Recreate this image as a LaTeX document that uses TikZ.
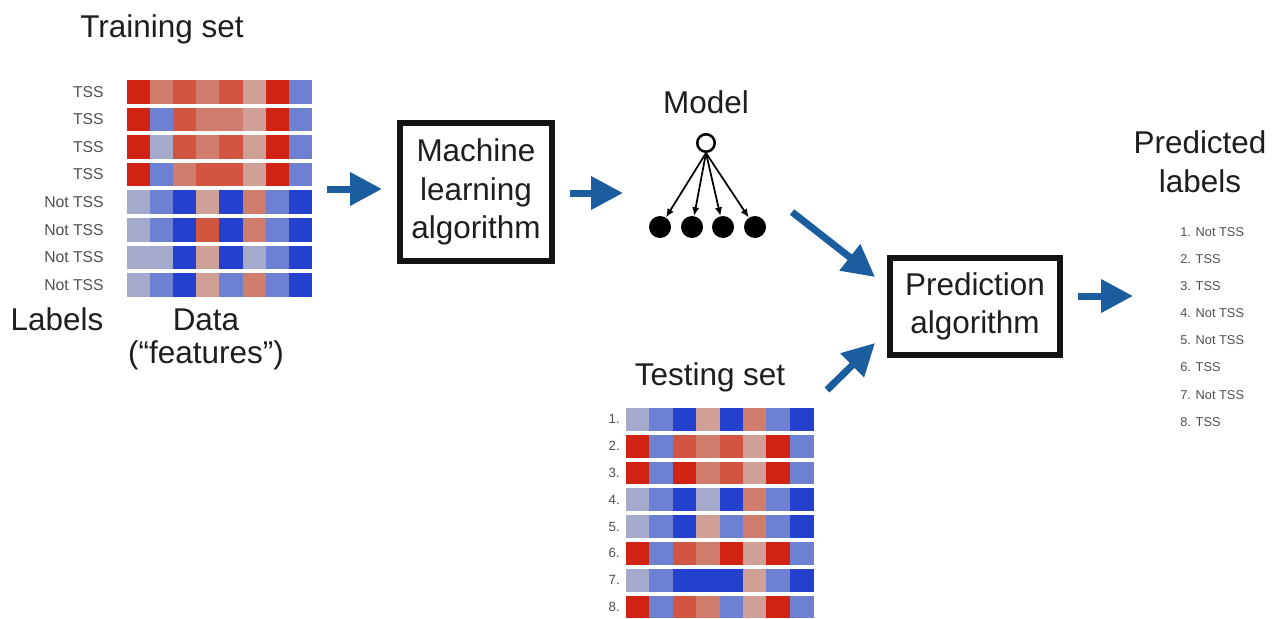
\documentclass[tikz,border=0pt]{standalone}
\usepackage{fontspec}
\setmainfont{Liberation Sans}
\usetikzlibrary{arrows.meta}
\definecolor{hR3}{RGB}{208,35,20}
\definecolor{hR2}{RGB}{210,85,65}
\definecolor{hR1}{RGB}{208,125,110}
\definecolor{hN}{RGB}{208,160,150}
\definecolor{hB1}{RGB}{165,170,205}
\definecolor{hB2}{RGB}{110,128,210}
\definecolor{hB3}{RGB}{35,65,205}
\definecolor{arrowblue}{RGB}{27,94,160}
\definecolor{txt}{RGB}{30,30,30}
\definecolor{labgrey}{RGB}{80,80,80}
\begin{document}
\begin{tikzpicture}[x=0.75pt,y=-0.75pt,
  head/.style={font=\fontsize{23.6}{28.9}\selectfont, text=txt, inner sep=0pt, align=center},
  lab/.style={font=\fontsize{11.8}{13}\selectfont, text=labgrey, inner sep=0pt},
  numlab/.style={font=\fontsize{10}{12}\selectfont, text=labgrey, inner sep=0pt},
  plab/.style={font=\fontsize{9.6}{12}\selectfont, text=labgrey, inner sep=0pt},
  algbox/.style={draw=black!92, line width=4.5pt, align=center, inner sep=0pt,
    font=\fontsize{23.6}{28.9}\selectfont, text=txt},
  bigarrow/.style={draw=arrowblue, line width=5.25pt, -{Triangle[length=24pt,width=24pt]}},
  modelarrow/.style={draw=black, line width=1.3pt, -{Latex[length=6.5pt,width=5.5pt]}},
  topnode/.style={circle, draw=black, line width=1.9pt, fill=white, minimum size=13.1pt, inner sep=0pt},
  leaf/.style={circle, fill=black, minimum size=16.5pt, inner sep=0pt},
]
\useasboundingbox (0,0) rectangle (1281,618);
\fill[white] (0,0) rectangle (1281,618);

% ---------- Training set ----------
\node[head, anchor=base] (trainT) at (162,37) {Training set};
\foreach \rowlist [count=\i from 0] in {
  {R3,R1,R2,R1,R2,N,R3,B2},
  {R3,B2,R2,R1,R1,N,R3,B2},
  {R3,B1,R2,R1,R2,N,R3,B2},
  {R3,B2,R1,R2,R2,N,R3,B2},
  {B1,B2,B3,N,B3,R1,B2,B3},
  {B1,B2,B3,R2,B3,R1,B2,B3},
  {B1,B1,B3,N,B3,B1,B2,B3},
  {B1,B2,B3,N,B2,R1,B2,B3}} {
  \foreach \c [count=\j from 0] in \rowlist {
    \fill[h\c] ({127+\j*23.1},{80+\i*27.6}) rectangle ++(23.4,23.5);
  }
}
\foreach \lab [count=\i from 0] in {TSS,TSS,TSS,TSS,Not TSS,Not TSS,Not TSS,Not TSS}
  \node[lab, anchor=east] (tl\i) at (104,{80+\i*27.6+11.75}) {\lab};
\node[head, anchor=base] (labelsT) at (57,330) {Labels};
\node[head, anchor=base, font=\fontsize{23.6}{24.75}\selectfont] (dataT) at (206,363) {Data\\(“features”)};
\coordinate (trainEnd) at (327,189);

% ---------- Machine learning ----------
\node[algbox, minimum width=114pt, minimum height=103.5pt] (ml) at (476,192) {Machine\\learning\\algorithm};
\draw[bigarrow, shorten >=11.25pt] (trainEnd) -- (trainEnd -| ml.west);
\coordinate (mlOut) at (623,193);
\draw[bigarrow, shorten <=11.25pt] (mlOut -| ml.east) -- (mlOut);

% ---------- Model ----------
\node[head, anchor=base] (modelT) at (706,113) {Model};
\node[topnode] (top) at (706,143) {};
\node[leaf] (b1) at (660,227) {};
\node[leaf] (b2) at (692,227) {};
\node[leaf] (b3) at (723,227) {};
\node[leaf] (b4) at (755,227) {};
\foreach \b in {b1,b2,b3,b4} \draw[modelarrow] (top.south) -- (\b);

% ---------- Prediction ----------
\node[algbox, minimum width=127.5pt, minimum height=72.75pt] (pred) at (975,306.5) {Prediction\\algorithm};
\coordinate (a3s) at (792,212);
\coordinate (a3e) at (875,277);
\draw[bigarrow] (a3s) -- (a3e);
\coordinate (a4s) at (827,390);
\coordinate (a4e) at (875,343);
\draw[bigarrow] (a4s) -- (a4e);
\coordinate (predOut) at (1133,296);
\draw[bigarrow, shorten <=11.25pt] (predOut -| pred.east) -- (predOut);

% ---------- Testing set ----------
\node[head, anchor=base] (testT) at (710,385) {Testing set};
\foreach \rowlist [count=\i from 0] in {
  {B1,B2,B3,N,B3,R1,B2,B3},
  {R3,B2,R2,R1,R2,N,R3,B2},
  {R3,B2,R3,R1,R2,N,R3,B2},
  {B1,B2,B3,B1,B3,R1,B2,B3},
  {B1,B2,B3,N,B2,R1,B2,B3},
  {R3,B2,R2,R1,R3,N,R3,B2},
  {B1,B2,B3,B3,B3,N,B2,B3},
  {R3,B2,R2,R1,B2,N,R3,B2}} {
  \foreach \c [count=\j from 0] in \rowlist {
    \fill[h\c] ({626+\j*23.4},{408+\i*26.8}) rectangle ++(23.7,22.7);
  }
}
\foreach \i in {1,...,8}
  \node[numlab, anchor=east] (sl\i) at (620,{408+(\i-1)*26.8+11.35}) {\i.};

% ---------- Predicted labels ----------
\node[head, anchor=base, font=\fontsize{23.6}{29.25}\selectfont] (predT) at (1200,192) {Predicted\\labels};
\foreach \lab [count=\i] in {Not TSS,TSS,TSS,Not TSS,Not TSS,TSS,Not TSS,TSS}
  \node[plab, anchor=west] (pl\i) at (1180,{232+(\i-1)*27.1}) {\i. \lab};
\end{tikzpicture}
\end{document}
